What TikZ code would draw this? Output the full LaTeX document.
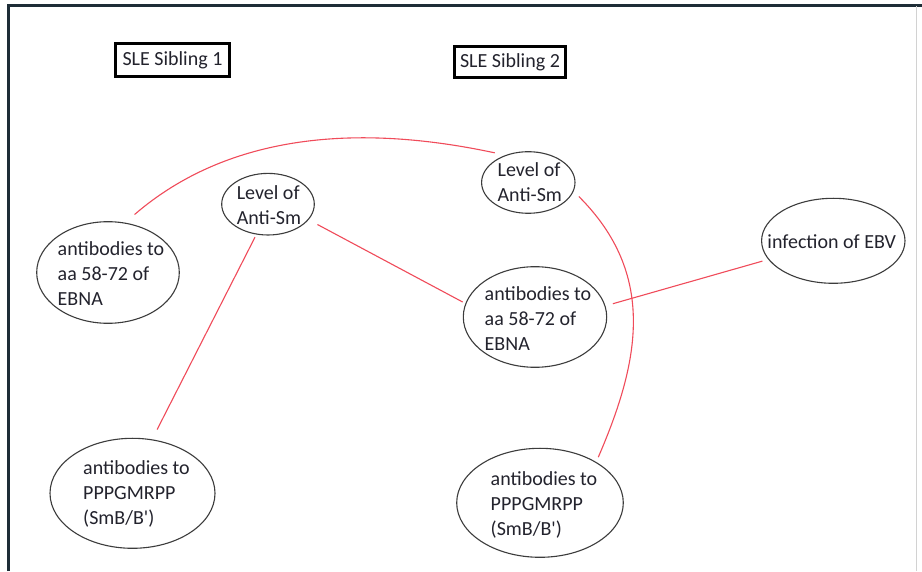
\documentclass[tikz,border=0pt]{standalone}
\usepackage{fontspec}
\setmainfont{Carlito}[Ligatures=TeXOff]
\usetikzlibrary{shapes.geometric}
\definecolor{conn}{RGB}{240,75,90}
\definecolor{txtc}{RGB}{35,35,45}
\definecolor{ellc}{RGB}{60,60,60}
\definecolor{framec}{RGB}{30,45,55}
\begin{document}
\begin{tikzpicture}[x=1pt,y=1pt,
  ell/.style={draw=ellc, line width=1.1pt, ellipse, inner sep=0pt},
  txt/.style={align=left, inner sep=0pt, text=txtc, font=\fontsize{20}{25}\selectfont},
  titlebox/.style={draw=black, line width=3.4pt, inner sep=0pt, text=txtc, font=\fontsize{20}{24}\selectfont},
  link/.style={draw=conn, line width=1.1pt}]
\useasboundingbox (0,0) rectangle (922,571);
\fill[white] (0,0) rectangle (922,571);
\draw[framec, line width=2.5pt] (8.7,0) -- (8.7,565.7) -- (922,565.7);
\draw[gray!35, line width=1pt] (916,0) -- (916,565);

\node[titlebox, minimum width=113.5pt, minimum height=32.5pt] (sib1) at (172.5,511) {SLE Sibling 1};
\node[titlebox, minimum width=110.5pt, minimum height=30.5pt] (sib2) at (510,509) {SLE Sibling 2};

\node[ell, minimum width=142.6pt, minimum height=101.6pt] (ebnaL) at (108,298.5) {};
\node[ell, minimum width=92.6pt, minimum height=61.6pt] (levL) at (268,366.8) {};
\node[ell, minimum width=93.4pt, minimum height=61.6pt] (levR) at (528.3,388.5) {};
\node[ell, minimum width=143.4pt, minimum height=100.6pt] (ebnaM) at (535,254) {};
\node[ell, minimum width=143.4pt, minimum height=85pt] (ebv) at (833.3,330.2) {};
\node[ell, minimum width=165pt, minimum height=110pt] (pppL) at (132.5,77.7) {};
\node[ell, minimum width=166.6pt, minimum height=109pt] (pppR) at (540,68.2) {};

\node[txt, xshift=3pt, yshift=-1.5pt] (ebnaLt) at (ebnaL) {antibodies to\\aa 58-72 of\\EBNA};
\node[txt, xshift=1pt, yshift=-1pt] (levLt) at (levL) {Level of\\Anti-Sm};
\node[txt, xshift=1.5pt] (levRt) at (levR) {Level of\\Anti-Sm};
\node[txt, xshift=3pt, yshift=-2pt] (ebnaMt) at (ebnaM) {antibodies to\\aa 58-72 of\\EBNA};
\node[txt, xshift=-1.5pt, yshift=-1pt] (ebvt) at (ebv) {infection of EBV};
\node[txt, xshift=4pt, yshift=-1pt] (pppLt) at (pppL) {antibodies to\\PPPGMRPP\\(SmB/B')};
\node[txt, xshift=4pt, yshift=-2pt] (pppRt) at (pppR) {antibodies to\\PPPGMRPP\\(SmB/B')};

\draw[link, shorten <=12.4pt, shorten >=10.8pt] (ebnaL.71.4) .. controls +(40.8:122.4pt) and +(167.9:170.8pt) .. (levR.130.2);
\draw[link, shorten <=7.4pt, shorten >=5.2pt] (levR.-11.8) .. controls +(-45:117.4pt) and +(66.6:110.2pt) .. (pppR.36.7);
\draw[link, shorten <=10pt, shorten >=3pt] (levL.-21.8) -- (ebnaM.169.7);
\draw[link, shorten <=3pt, shorten >=11pt] (levL.249) -- (pppL.70);
\draw[link, shorten <=7.7pt, shorten >=6pt] (ebnaM.9.8) -- (ebv.196);
\end{tikzpicture}
\end{document}
